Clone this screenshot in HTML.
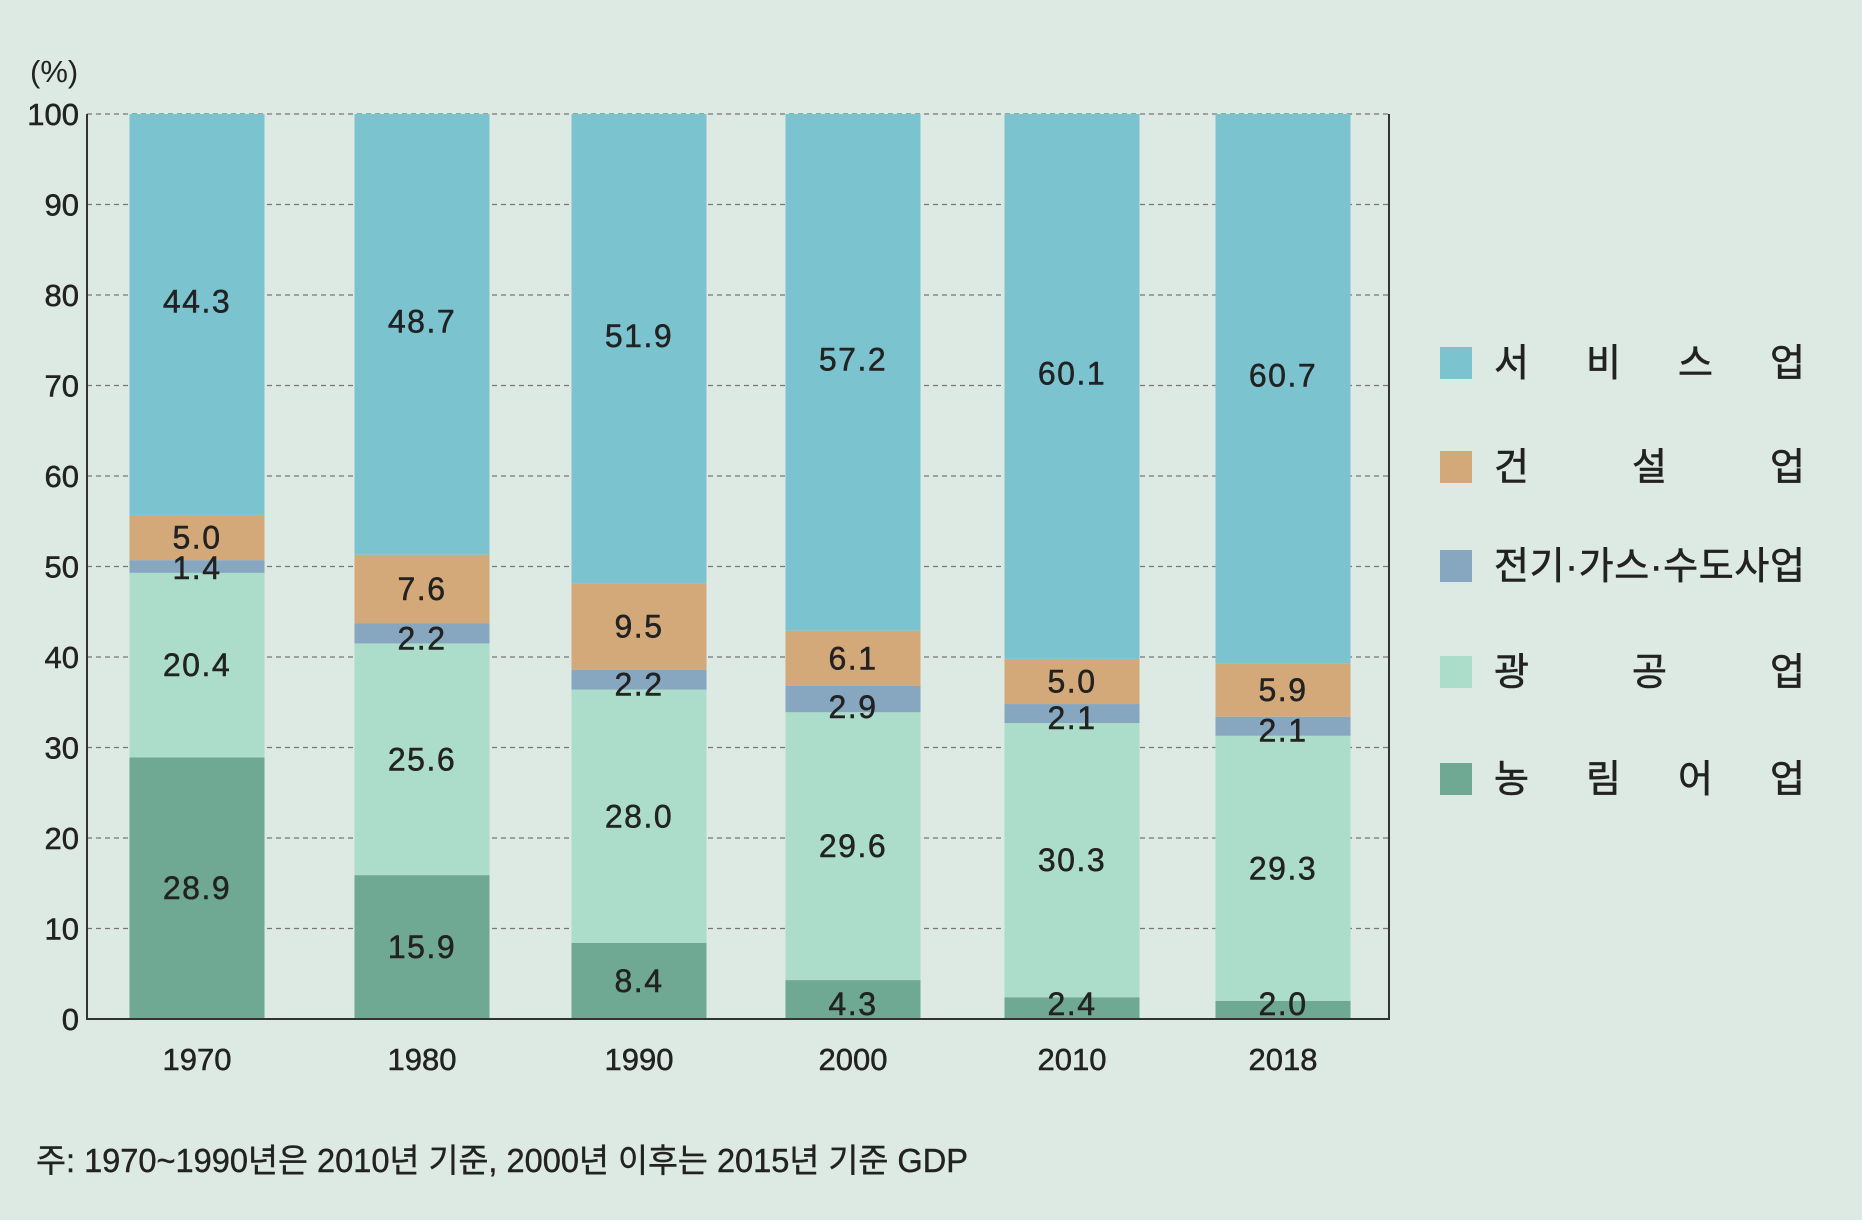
<!DOCTYPE html>
<html><head><meta charset="utf-8">
<style>
html,body{margin:0;padding:0;background:#dde9e3;}
svg{display:block;font-family:"Liberation Sans","Noto Sans CJK KR",sans-serif;}
</style></head>
<body>
<svg id="chart" width="1862" height="1220" viewBox="0 0 1862 1220" xmlns="http://www.w3.org/2000/svg">
<rect width="1862" height="1220" fill="#dde9e3"/>
<text x="30" y="82" font-size="31" fill="#222">(%)</text>
<g id="grid"></g>
<g id="bars"></g>
<g id="labels"></g>
<g id="axes"></g>
<g id="legend"></g>
<text x="36" y="1172" font-size="33" fill="#222" stroke="#222" stroke-width="0.4" textLength="932" lengthAdjust="spacingAndGlyphs">주: 1970~1990년은 2010년 기준, 2000년 이후는 2015년 기준 GDP</text>
</svg>
<script>
const years = ['1970','1980','1990','2000','2010','2018'];
const agriculture = [28.9,15.9,8.4,4.3,2.4,2.0];
const mining = [20.4,25.6,28.0,29.6,30.3,29.3];
const utility = [1.4,2.2,2.2,2.9,2.1,2.1];
const construction = [5.0,7.6,9.5,6.1,5.0,5.9];
const services = [44.3,48.7,51.9,57.2,60.1,60.7];
const yTicks = [0,10,20,30,40,50,60,70,80,90,100];
const seriesNames = ['서 비 스 업','건 설 업','전기·가스·수도사업','광 공 업','농 림 어 업'];

const NS='http://www.w3.org/2000/svg';
const L=87,R=1389,T=114,B=1019;
const y=v=>B-(B-T)*v/100;
const centers=[197,422,639,853,1072,1283];
const x=i=>centers[i];
const bw=135;
function mk(tag,attrs,parent,text){const e=document.createElementNS(NS,tag);for(const k in attrs)e.setAttribute(k,attrs[k]);if(text!==undefined)e.textContent=text;parent.appendChild(e);return e;}
const grid=document.getElementById('grid'),bars=document.getElementById('bars'),labels=document.getElementById('labels'),axes=document.getElementById('axes'),legend=document.getElementById('legend');
yTicks.forEach(t=>{
  if(t>0){const g=mk('line',{x1:L,x2:R,y1:y(t),y2:y(t),stroke:'#777','stroke-width':1.3,'stroke-dasharray':'5,4'},grid);
  
  }
  const tl=mk('text',{x:L-8,y:y(t)+11,'font-size':31,'text-anchor':'end',fill:'#222',stroke:'#222','stroke-width':0.5},axes,String(t));
  
  
});
const colors=['#7bc3cf','#d4a97a','#87a6bf','#acdcca','#6fa893'];
const keys=['agriculture','mining','utility','construction','services'];
const data=[agriculture,mining,utility,construction,services];
const segColor=[colors[4],colors[3],colors[2],colors[1],colors[0]];
years.forEach((yr,i)=>{
  let base=0;
  data.forEach((arr,s)=>{
    const v=arr[i];let top=base+v;if(s===4)top=100;
    const r=mk('rect',{x:x(i)-bw/2,y:y(top),width:bw,height:y(base)-y(top),fill:segColor[s]},bars);
    
    
    let cy=(y(base)+y(top))/2+11;
    if(s===4)cy=(y(base)+y(top))/2-2;
    if(v<4)cy=y(base)+6;
    if(s===0&&v<5)cy=y(0)-4;
    const t=mk('text',{x:x(i),y:cy,'font-size':32,'text-anchor':'middle',fill:'#222',stroke:'#222','stroke-width':0.5,'letter-spacing':1.5},labels,v.toFixed(1));
    
    
    base=top;
  });
  const xl=mk('text',{x:x(i),y:1070,'font-size':31,'text-anchor':'middle',fill:'#222',stroke:'#222','stroke-width':0.5},axes,yr);
  
  
});
const al=mk('polyline',{points:`${L},${T} ${L},${B} ${R},${B} ${R},${T}`,fill:'none',stroke:'#333','stroke-width':2},axes);


const ly=[363,467,566,672,779];
seriesNames.forEach((n,k)=>{
  const sq=mk('rect',{x:1440,y:ly[k]-16,width:32,height:32,fill:colors[k]},legend);
  
  
  const t=mk('text',{x:1494,y:ly[k]+13,'font-size':38,fill:'#222',stroke:'#222','stroke-width':0.6,textLength:311,lengthAdjust:'spacing'},legend,n);
  
  
});
</script>
</body></html>
